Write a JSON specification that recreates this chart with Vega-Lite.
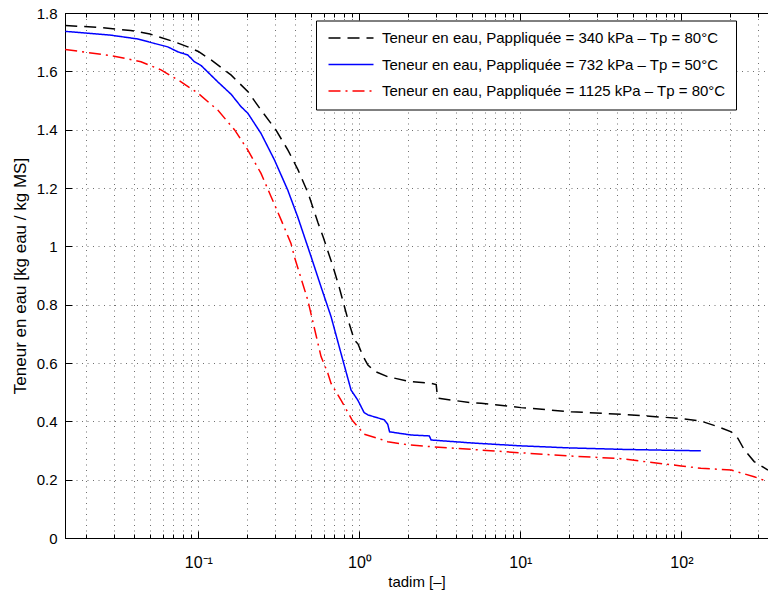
{
  "$schema": "https://vega.github.io/schema/vega-lite/v6.json",
  "width": 703,
  "height": 525,
  "autosize": {"type": "none"},
  "padding": {"left": 65, "top": 13, "right": 0, "bottom": 61},
  "background": "white",
  "config": {
    "font": "Liberation Sans",
    "view": {"stroke": "black", "strokeWidth": 1},
    "axis": {
      "labelFont": "Liberation Sans", "titleFont": "Liberation Sans",
      "labelColor": "black", "titleColor": "black",
      "domainColor": "black", "tickColor": "black",
      "labelFontSize": 15, "titleFontSize": 15, "titleFontWeight": "normal",
      "gridColor": "#333", "gridDash": [1, 4.5], "gridOpacity": 0.7, "gridWidth": 1
    }
  },
  "datasets": {
    "d": [
      {"s": "Teneur en eau, Pappliquée = 340 kPa – Tp = 80°C", "t": 0.0149, "w": 1.757},
      {"s": "Teneur en eau, Pappliquée = 340 kPa – Tp = 80°C", "t": 0.025, "w": 1.750},
      {"s": "Teneur en eau, Pappliquée = 340 kPa – Tp = 80°C", "t": 0.038, "w": 1.740},
      {"s": "Teneur en eau, Pappliquée = 340 kPa – Tp = 80°C", "t": 0.05, "w": 1.728},
      {"s": "Teneur en eau, Pappliquée = 340 kPa – Tp = 80°C", "t": 0.072, "w": 1.700},
      {"s": "Teneur en eau, Pappliquée = 340 kPa – Tp = 80°C", "t": 0.086, "w": 1.684},
      {"s": "Teneur en eau, Pappliquée = 340 kPa – Tp = 80°C", "t": 0.1, "w": 1.668},
      {"s": "Teneur en eau, Pappliquée = 340 kPa – Tp = 80°C", "t": 0.12, "w": 1.639},
      {"s": "Teneur en eau, Pappliquée = 340 kPa – Tp = 80°C", "t": 0.16, "w": 1.587},
      {"s": "Teneur en eau, Pappliquée = 340 kPa – Tp = 80°C", "t": 0.204, "w": 1.529},
      {"s": "Teneur en eau, Pappliquée = 340 kPa – Tp = 80°C", "t": 0.245, "w": 1.467},
      {"s": "Teneur en eau, Pappliquée = 340 kPa – Tp = 80°C", "t": 0.303, "w": 1.399},
      {"s": "Teneur en eau, Pappliquée = 340 kPa – Tp = 80°C", "t": 0.36, "w": 1.330},
      {"s": "Teneur en eau, Pappliquée = 340 kPa – Tp = 80°C", "t": 0.416, "w": 1.262},
      {"s": "Teneur en eau, Pappliquée = 340 kPa – Tp = 80°C", "t": 0.48, "w": 1.183},
      {"s": "Teneur en eau, Pappliquée = 340 kPa – Tp = 80°C", "t": 0.554, "w": 1.080},
      {"s": "Teneur en eau, Pappliquée = 340 kPa – Tp = 80°C", "t": 0.596, "w": 1.032},
      {"s": "Teneur en eau, Pappliquée = 340 kPa – Tp = 80°C", "t": 0.687, "w": 0.929},
      {"s": "Teneur en eau, Pappliquée = 340 kPa – Tp = 80°C", "t": 0.749, "w": 0.860},
      {"s": "Teneur en eau, Pappliquée = 340 kPa – Tp = 80°C", "t": 0.851, "w": 0.747},
      {"s": "Teneur en eau, Pappliquée = 340 kPa – Tp = 80°C", "t": 0.93, "w": 0.679},
      {"s": "Teneur en eau, Pappliquée = 340 kPa – Tp = 80°C", "t": 0.981, "w": 0.665},
      {"s": "Teneur en eau, Pappliquée = 340 kPa – Tp = 80°C", "t": 1.05, "w": 0.625},
      {"s": "Teneur en eau, Pappliquée = 340 kPa – Tp = 80°C", "t": 1.13, "w": 0.593},
      {"s": "Teneur en eau, Pappliquée = 340 kPa – Tp = 80°C", "t": 1.24, "w": 0.572},
      {"s": "Teneur en eau, Pappliquée = 340 kPa – Tp = 80°C", "t": 1.5, "w": 0.553},
      {"s": "Teneur en eau, Pappliquée = 340 kPa – Tp = 80°C", "t": 2.04, "w": 0.537},
      {"s": "Teneur en eau, Pappliquée = 340 kPa – Tp = 80°C", "t": 2.79, "w": 0.530},
      {"s": "Teneur en eau, Pappliquée = 340 kPa – Tp = 80°C", "t": 3.0, "w": 0.526},
      {"s": "Teneur en eau, Pappliquée = 340 kPa – Tp = 80°C", "t": 3.06, "w": 0.480},
      {"s": "Teneur en eau, Pappliquée = 340 kPa – Tp = 80°C", "t": 3.71, "w": 0.473},
      {"s": "Teneur en eau, Pappliquée = 340 kPa – Tp = 80°C", "t": 4.94, "w": 0.464},
      {"s": "Teneur en eau, Pappliquée = 340 kPa – Tp = 80°C", "t": 5.7, "w": 0.462},
      {"s": "Teneur en eau, Pappliquée = 340 kPa – Tp = 80°C", "t": 10.1, "w": 0.447},
      {"s": "Teneur en eau, Pappliquée = 340 kPa – Tp = 80°C", "t": 20.6, "w": 0.433},
      {"s": "Teneur en eau, Pappliquée = 340 kPa – Tp = 80°C", "t": 42, "w": 0.424},
      {"s": "Teneur en eau, Pappliquée = 340 kPa – Tp = 80°C", "t": 99.5, "w": 0.410},
      {"s": "Teneur en eau, Pappliquée = 340 kPa – Tp = 80°C", "t": 132, "w": 0.401},
      {"s": "Teneur en eau, Pappliquée = 340 kPa – Tp = 80°C", "t": 168, "w": 0.382},
      {"s": "Teneur en eau, Pappliquée = 340 kPa – Tp = 80°C", "t": 204, "w": 0.364},
      {"s": "Teneur en eau, Pappliquée = 340 kPa – Tp = 80°C", "t": 224, "w": 0.342},
      {"s": "Teneur en eau, Pappliquée = 340 kPa – Tp = 80°C", "t": 246, "w": 0.302},
      {"s": "Teneur en eau, Pappliquée = 340 kPa – Tp = 80°C", "t": 283, "w": 0.262},
      {"s": "Teneur en eau, Pappliquée = 340 kPa – Tp = 80°C", "t": 345, "w": 0.233},

      {"s": "Teneur en eau, Pappliquée = 732 kPa – Tp = 50°C", "t": 0.0149, "w": 1.737},
      {"s": "Teneur en eau, Pappliquée = 732 kPa – Tp = 50°C", "t": 0.0286, "w": 1.724},
      {"s": "Teneur en eau, Pappliquée = 732 kPa – Tp = 50°C", "t": 0.042, "w": 1.711},
      {"s": "Teneur en eau, Pappliquée = 732 kPa – Tp = 50°C", "t": 0.053, "w": 1.696},
      {"s": "Teneur en eau, Pappliquée = 732 kPa – Tp = 50°C", "t": 0.0645, "w": 1.684},
      {"s": "Teneur en eau, Pappliquée = 732 kPa – Tp = 50°C", "t": 0.0745, "w": 1.667},
      {"s": "Teneur en eau, Pappliquée = 732 kPa – Tp = 50°C", "t": 0.086, "w": 1.656},
      {"s": "Teneur en eau, Pappliquée = 732 kPa – Tp = 50°C", "t": 0.0944, "w": 1.633},
      {"s": "Teneur en eau, Pappliquée = 732 kPa – Tp = 50°C", "t": 0.104, "w": 1.620},
      {"s": "Teneur en eau, Pappliquée = 732 kPa – Tp = 50°C", "t": 0.132, "w": 1.564},
      {"s": "Teneur en eau, Pappliquée = 732 kPa – Tp = 50°C", "t": 0.16, "w": 1.521},
      {"s": "Teneur en eau, Pappliquée = 732 kPa – Tp = 50°C", "t": 0.184, "w": 1.479},
      {"s": "Teneur en eau, Pappliquée = 732 kPa – Tp = 50°C", "t": 0.203, "w": 1.456},
      {"s": "Teneur en eau, Pappliquée = 732 kPa – Tp = 50°C", "t": 0.245, "w": 1.387},
      {"s": "Teneur en eau, Pappliquée = 732 kPa – Tp = 50°C", "t": 0.297, "w": 1.296},
      {"s": "Teneur en eau, Pappliquée = 732 kPa – Tp = 50°C", "t": 0.359, "w": 1.193},
      {"s": "Teneur en eau, Pappliquée = 732 kPa – Tp = 50°C", "t": 0.414, "w": 1.101},
      {"s": "Teneur en eau, Pappliquée = 732 kPa – Tp = 50°C", "t": 0.501, "w": 0.965},
      {"s": "Teneur en eau, Pappliquée = 732 kPa – Tp = 50°C", "t": 0.578, "w": 0.861},
      {"s": "Teneur en eau, Pappliquée = 732 kPa – Tp = 50°C", "t": 0.667, "w": 0.759},
      {"s": "Teneur en eau, Pappliquée = 732 kPa – Tp = 50°C", "t": 0.769, "w": 0.633},
      {"s": "Teneur en eau, Pappliquée = 732 kPa – Tp = 50°C", "t": 0.888, "w": 0.507},
      {"s": "Teneur en eau, Pappliquée = 732 kPa – Tp = 50°C", "t": 0.977, "w": 0.473},
      {"s": "Teneur en eau, Pappliquée = 732 kPa – Tp = 50°C", "t": 1.07, "w": 0.430},
      {"s": "Teneur en eau, Pappliquée = 732 kPa – Tp = 50°C", "t": 1.13, "w": 0.422},
      {"s": "Teneur en eau, Pappliquée = 732 kPa – Tp = 50°C", "t": 1.43, "w": 0.405},
      {"s": "Teneur en eau, Pappliquée = 732 kPa – Tp = 50°C", "t": 1.5, "w": 0.390},
      {"s": "Teneur en eau, Pappliquée = 732 kPa – Tp = 50°C", "t": 1.54, "w": 0.364},
      {"s": "Teneur en eau, Pappliquée = 732 kPa – Tp = 50°C", "t": 2.1, "w": 0.353},
      {"s": "Teneur en eau, Pappliquée = 732 kPa – Tp = 50°C", "t": 2.72, "w": 0.350},
      {"s": "Teneur en eau, Pappliquée = 732 kPa – Tp = 50°C", "t": 2.79, "w": 0.336},
      {"s": "Teneur en eau, Pappliquée = 732 kPa – Tp = 50°C", "t": 4.94, "w": 0.326},
      {"s": "Teneur en eau, Pappliquée = 732 kPa – Tp = 50°C", "t": 10, "w": 0.316},
      {"s": "Teneur en eau, Pappliquée = 732 kPa – Tp = 50°C", "t": 20, "w": 0.309},
      {"s": "Teneur en eau, Pappliquée = 732 kPa – Tp = 50°C", "t": 42, "w": 0.304},
      {"s": "Teneur en eau, Pappliquée = 732 kPa – Tp = 50°C", "t": 100, "w": 0.300},
      {"s": "Teneur en eau, Pappliquée = 732 kPa – Tp = 50°C", "t": 132, "w": 0.299},

      {"s": "Teneur en eau, Pappliquée = 1125 kPa – Tp = 80°C", "t": 0.0149, "w": 1.675},
      {"s": "Teneur en eau, Pappliquée = 1125 kPa – Tp = 80°C", "t": 0.03, "w": 1.652},
      {"s": "Teneur en eau, Pappliquée = 1125 kPa – Tp = 80°C", "t": 0.044, "w": 1.633},
      {"s": "Teneur en eau, Pappliquée = 1125 kPa – Tp = 80°C", "t": 0.0586, "w": 1.605},
      {"s": "Teneur en eau, Pappliquée = 1125 kPa – Tp = 80°C", "t": 0.076, "w": 1.568},
      {"s": "Teneur en eau, Pappliquée = 1125 kPa – Tp = 80°C", "t": 0.1, "w": 1.524},
      {"s": "Teneur en eau, Pappliquée = 1125 kPa – Tp = 80°C", "t": 0.132, "w": 1.467},
      {"s": "Teneur en eau, Pappliquée = 1125 kPa – Tp = 80°C", "t": 0.168, "w": 1.399},
      {"s": "Teneur en eau, Pappliquée = 1125 kPa – Tp = 80°C", "t": 0.203, "w": 1.330},
      {"s": "Teneur en eau, Pappliquée = 1125 kPa – Tp = 80°C", "t": 0.245, "w": 1.250},
      {"s": "Teneur en eau, Pappliquée = 1125 kPa – Tp = 80°C", "t": 0.283, "w": 1.170},
      {"s": "Teneur en eau, Pappliquée = 1125 kPa – Tp = 80°C", "t": 0.327, "w": 1.090},
      {"s": "Teneur en eau, Pappliquée = 1125 kPa – Tp = 80°C", "t": 0.376, "w": 1.010},
      {"s": "Teneur en eau, Pappliquée = 1125 kPa – Tp = 80°C", "t": 0.395, "w": 0.964},
      {"s": "Teneur en eau, Pappliquée = 1125 kPa – Tp = 80°C", "t": 0.478, "w": 0.816},
      {"s": "Teneur en eau, Pappliquée = 1125 kPa – Tp = 80°C", "t": 0.578, "w": 0.622},
      {"s": "Teneur en eau, Pappliquée = 1125 kPa – Tp = 80°C", "t": 0.637, "w": 0.565},
      {"s": "Teneur en eau, Pappliquée = 1125 kPa – Tp = 80°C", "t": 0.667, "w": 0.530},
      {"s": "Teneur en eau, Pappliquée = 1125 kPa – Tp = 80°C", "t": 0.769, "w": 0.473},
      {"s": "Teneur en eau, Pappliquée = 1125 kPa – Tp = 80°C", "t": 0.9, "w": 0.405},
      {"s": "Teneur en eau, Pappliquée = 1125 kPa – Tp = 80°C", "t": 1.07, "w": 0.356},
      {"s": "Teneur en eau, Pappliquée = 1125 kPa – Tp = 80°C", "t": 1.3, "w": 0.342},
      {"s": "Teneur en eau, Pappliquée = 1125 kPa – Tp = 80°C", "t": 1.5, "w": 0.330},
      {"s": "Teneur en eau, Pappliquée = 1125 kPa – Tp = 80°C", "t": 2.05, "w": 0.319},
      {"s": "Teneur en eau, Pappliquée = 1125 kPa – Tp = 80°C", "t": 2.79, "w": 0.313},
      {"s": "Teneur en eau, Pappliquée = 1125 kPa – Tp = 80°C", "t": 4.94, "w": 0.304},
      {"s": "Teneur en eau, Pappliquée = 1125 kPa – Tp = 80°C", "t": 10.1, "w": 0.292},
      {"s": "Teneur en eau, Pappliquée = 1125 kPa – Tp = 80°C", "t": 20.6, "w": 0.281},
      {"s": "Teneur en eau, Pappliquée = 1125 kPa – Tp = 80°C", "t": 42, "w": 0.272},
      {"s": "Teneur en eau, Pappliquée = 1125 kPa – Tp = 80°C", "t": 99.5, "w": 0.247},
      {"s": "Teneur en eau, Pappliquée = 1125 kPa – Tp = 80°C", "t": 132, "w": 0.239},
      {"s": "Teneur en eau, Pappliquée = 1125 kPa – Tp = 80°C", "t": 204, "w": 0.233},
      {"s": "Teneur en eau, Pappliquée = 1125 kPa – Tp = 80°C", "t": 232, "w": 0.224},
      {"s": "Teneur en eau, Pappliquée = 1125 kPa – Tp = 80°C", "t": 283, "w": 0.210},
      {"s": "Teneur en eau, Pappliquée = 1125 kPa – Tp = 80°C", "t": 345, "w": 0.193}
    ]
  },
  "data": {"name": "d"},
  "layer": [
    {
      "mark": {"type": "line", "strokeWidth": 1.5, "clip": true},
      "encoding": {
        "x": {
          "field": "t", "type": "quantitative",
          "scale": {"type": "log", "domain": [0.01485, 345], "nice": false},
          "axis": {
            "title": "tadim [–]",
            "titlePadding": 1,
            "values": [0.02,0.03,0.04,0.05,0.06,0.07,0.08,0.09,0.1,0.2,0.3,0.4,0.5,0.6,0.7,0.8,0.9,1,2,3,4,5,6,7,8,9,10,20,30,40,50,60,70,80,90,100,200,300],
            "labelExpr": "datum.value == 0.1 ? '10⁻¹' : datum.value == 1 ? '10⁰' : datum.value == 10 ? '10¹' : datum.value == 100 ? '10²' : ''",
            "tickSize": {"condition": {"test": "datum.value == 0.1 || datum.value == 1 || datum.value == 10 || datum.value == 100", "value": -7}, "value": -4},
            "labelPadding": 23,
            "labelFontSize": 16,
            "labelFlush": false,
            "labelOverlap": false
          }
        },
        "y": {
          "field": "w", "type": "quantitative",
          "scale": {"domain": [0, 1.8], "nice": false},
          "axis": {
            "title": "Teneur en eau [kg eau / kg MS]",
            "titleFontSize": 17,
            "titlePadding": 7,
            "values": [0, 0.2, 0.4, 0.6, 0.8, 1, 1.2, 1.4, 1.6, 1.8],
            "labelExpr": "format(datum.value, '.1~f')",
            "tickSize": -7,
            "labelPadding": 15
          }
        },
        "color": {
          "field": "s", "type": "nominal",
          "scale": {
            "domain": ["Teneur en eau, Pappliquée = 340 kPa – Tp = 80°C", "Teneur en eau, Pappliquée = 732 kPa – Tp = 50°C", "Teneur en eau, Pappliquée = 1125 kPa – Tp = 80°C"],
            "range": ["#000000", "#0000ff", "#ff0000"]
          },
          "legend": {
            "orient": "none", "legendX": 251, "legendY": 7.5, "title": null,
            "symbolType": "M-1,0H8", "symbolSize": 100, "symbolStrokeWidth": 1.5,
            "labelFont": "Liberation Sans", "labelFontSize": 15, "labelColor": "black", "labelLimit": 0,
            "labelOffset": 41, "rowPadding": 10.5, "padding": 10,
            "strokeColor": "black", "fillColor": "white"
          }
        },
        "strokeDash": {
          "field": "s", "type": "nominal",
          "scale": {
            "domain": ["Teneur en eau, Pappliquée = 340 kPa – Tp = 80°C", "Teneur en eau, Pappliquée = 732 kPa – Tp = 50°C", "Teneur en eau, Pappliquée = 1125 kPa – Tp = 80°C"],
            "range": [[12, 7], [1, 0], [12, 5, 2, 5]]
          },
          "legend": {
            "orient": "none", "legendX": 251, "legendY": 7.5, "title": null,
            "symbolType": "M-1,0H8", "symbolSize": 100, "symbolStrokeWidth": 1.5,
            "labelFont": "Liberation Sans", "labelFontSize": 15, "labelColor": "black", "labelLimit": 0,
            "labelOffset": 41, "rowPadding": 10.5, "padding": 10,
            "strokeColor": "black", "fillColor": "white"
          }
        }
      }
    },
    {
      "mark": {"type": "line", "opacity": 0},
      "encoding": {
        "x": {
          "field": "t", "type": "quantitative",
          "scale": {"type": "log", "domain": [0.01485, 345], "nice": false},
          "axis": {
            "orient": "top", "title": null, "labels": false, "grid": false,
            "values": [0.02,0.03,0.04,0.05,0.06,0.07,0.08,0.09,0.1,0.2,0.3,0.4,0.5,0.6,0.7,0.8,0.9,1,2,3,4,5,6,7,8,9,10,20,30,40,50,60,70,80,90,100,200,300],
            "tickSize": {"condition": {"test": "datum.value == 0.1 || datum.value == 1 || datum.value == 10 || datum.value == 100", "value": -7}, "value": -4}
          }
        },
        "y": {"field": "w", "type": "quantitative"},
        "detail": {"field": "s", "type": "nominal"}
      }
    }
  ],
  "resolve": {"axis": {"x": "independent"}}
}
